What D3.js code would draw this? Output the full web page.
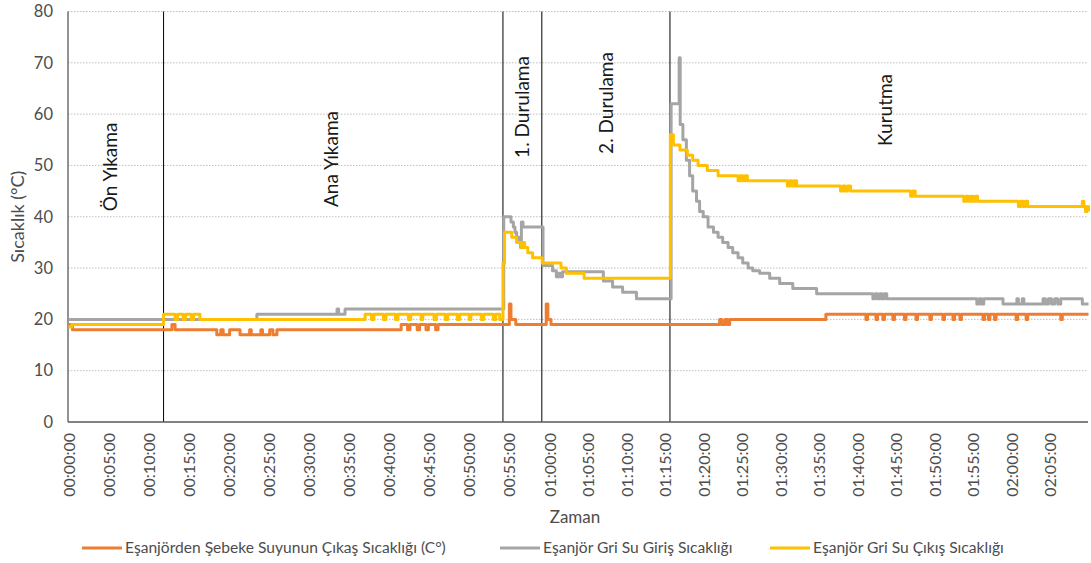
<!DOCTYPE html>
<html><head><meta charset="utf-8">
<script src="https://cdn.jsdelivr.net/npm/d3@7"></script>
<style>
body{margin:0;background:#fff;}
svg text{font-family:Lato,"Liberation Sans",sans-serif;}
</style></head><body>
<svg id="c" width="1091" height="563"></svg>
<script>
// ---------- DATA (time in minutes, temperature in °C) ----------
const seriesNames = [
  "Eşanjörden Şebeke Suyunun Çıkaş Sıcaklığı (C°)",
  "Eşanjör Gri Su Giriş Sıcaklığı",
  "Eşanjör Gri Su Çıkış Sıcaklığı"
];
const seriesColors = ["#ED7D31", "#A5A5A5", "#FFC000"];

const sebekeCikis = [
  [0,19],[0.5,18],[12.9,19],[13.3,18],
  [18.5,17],[19.0,18],[19.3,17],[20.1,18],
  [21.4,17],[22.6,18],[22.8,17],[24.0,18],[24.2,17],[25.1,18],[25.5,17],[26.0,18],
  [41.5,19],[42.3,18],[42.6,19],[43.5,18],[43.8,19],[44.6,18],[44.9,19],[45.8,18],[46.1,19],
  [55.0,23],[55.2,20],[55.8,19],
  [59.6,23],[59.8,20],[60.2,19],
  [82.1,20],[82.4,19],[82.8,20],[83.1,19],[83.4,20],
  [95.9,21],
  [101.1,20],[101.3,21],[102.4,20],[102.6,21],[103.3,20],[103.5,21],[104.6,20],[104.8,21],
  [106.1,20],[106.3,21],[107.6,20],[107.8,21],[109.4,20],[109.6,21],[111.1,20],[111.3,21],
  [112.4,20],[112.6,21],[113.3,20],[113.5,21],[116.3,20],[116.5,21],[117.0,20],[117.2,21],
  [117.8,20],[118.0,21],[120.6,20],[120.8,21],[121.9,20],[122.1,21],[126.4,20],[126.6,21],
  [130,21]
];

const griGiris = [
  [0,20],[23.5,21],[33.5,22],[33.7,21],[34.5,22],
  [54.3,40],[55.2,39],[55.5,38],[55.7,37],[55.9,36],[56.2,35],[56.4,34],[56.5,39],[56.7,38],
  [59.2,30.5],[60.4,29.5],[60.9,28.3],[61.2,29],[61.4,28.3],[61.7,29.3],
  [67.0,27.5],[68.2,26.3],[69.5,25.3],[71.3,24],
  [75.8,62],[76.85,71],[76.98,58],[77.33,55],[77.78,51],[78.2,48],[78.6,45],[79.1,43],
  [79.5,41],[79.97,40],[80.6,38],[81.3,37],[81.9,36],[82.5,35],[83.2,34],[83.8,33],
  [84.5,32],[85.1,31],[85.8,30],[86.4,29.5],[87.3,29],[88.6,28],[89.9,27],[91.6,26],[94.7,25],
  [102.0,24],[102.3,25],[102.6,24],[102.9,25],[103.2,24],[103.5,25],[103.8,24],
  [115.5,23],[115.8,24],[116.1,23],[116.4,24],
  [118.9,23],[120.7,24],[120.9,23],[121.4,24],[121.6,23],
  [124.1,24],[124.4,23],[124.8,24],[125.2,23],[125.6,24],[126.0,23],[126.4,24],
  [129.2,23],[130,23]
];

const griCikis = [
  [0,18.5],[0.4,19],
  [11.86,21],[13.3,20],[13.6,21],[14.3,20],[14.6,21],[15.3,20],[15.6,21],[16.4,20],
  [37.0,21],[37.8,20],[38.1,21],[39.3,20],[39.6,21],[40.8,20],[41.1,21],[42.4,20],[42.7,21],
  [44.0,20],[44.2,21],[45.6,20],[45.9,21],[47.0,20],[47.3,21],[48.5,20],[48.8,21],[50.0,20],
  [50.2,21],[51.5,20],[51.8,21],[53.0,20],[53.3,21],[53.8,20],
  [54.2,31],[54.4,37],[55.3,36],[55.9,35],[56.5,34],[56.7,35],[56.9,34],[57.3,33],[57.9,32],
  [59.1,31],[61.5,30],[62.2,29],[64.5,28],
  [75.7,56],[76.1,54],[76.95,53],[77.9,52],[78.6,51],[79.3,50],[80.5,49],[81.9,48],
  [84.5,47],[84.8,48],[85.1,47],[85.4,48],[85.7,47],
  [90.9,46],[91.2,47],[91.5,46],[91.8,47],[92.1,46],
  [97.8,45],[98.1,46],[98.4,45],[98.7,46],[99.1,45],
  [106.9,44],[107.2,45],[107.5,44],
  [113.8,43],[114.1,44],[114.4,43],[114.7,44],[115.0,43],[115.3,44],[115.6,43],
  [120.9,42],[121.2,43],[121.5,42],[121.8,43],[122.1,42],
  [129.2,43],[129.4,42],[129.6,41],[129.8,42],[130,41]
];

const phaseBoundaries = [11.86, 54.2, 59.05, 75.65];
const phaseNames = ["Ön Yıkama", "Ana Yıkama", "1. Durulama", "2. Durulama", "Kurutma"];
const phaseLabelTimes = [5.2, 32.8, 56.6, 67.4, 103.6];

const xTickLabels = ["00:00:00","00:05:00","00:10:00","00:15:00","00:20:00","00:25:00",
  "00:30:00","00:35:00","00:40:00","00:45:00","00:50:00","00:55:00","01:00:00","01:05:00",
  "01:10:00","01:15:00","01:20:00","01:25:00","01:30:00","01:35:00","01:40:00","01:45:00",
  "01:50:00","01:55:00","02:00:00","02:05:00"];
const yTicks = [0,10,20,30,40,50,60,70,80];

// ---------- LAYOUT ----------
const L = 68, R = 1088, T = 11.5, B = 422;
const phaseLabelY = [167, 159, 107, 103, 110];
const svg = d3.select("#c");

const toMin = s => { const p = s.split(":").map(Number); return p[0]*60 + p[1] + p[2]/60; };

const x = d3.scaleLinear().domain([0, 60, 130]).range([L + 0.5, L + 0.472*(R-L), R + 0.5]);
const y = d3.scaleLinear().domain([0, 80]).range([B, T]);

// gridlines
svg.append("g").selectAll("line").data(yTicks.filter(d => d > 0)).join("line")
  .attr("x1", L).attr("x2", R).attr("y1", d => y(d)).attr("y2", d => y(d))
  .attr("stroke", "#bfbfbf").attr("stroke-width", 1).attr("stroke-dasharray", "1.5,1.5");

// phase boundaries
svg.append("g").selectAll("line").data(phaseBoundaries).join("line")
  .attr("x1", d => x(d)).attr("x2", d => x(d)).attr("y1", y(80)).attr("y2", B)
  .attr("stroke", "#000").attr("stroke-width", 1);

// axis lines
svg.append("line").attr("x1", L).attr("x2", L).attr("y1", T).attr("y2", B)
  .attr("stroke", "#595959").attr("stroke-width", 1.3);
svg.append("line").attr("x1", L).attr("x2", R).attr("y1", B).attr("y2", B)
  .attr("stroke", "#595959").attr("stroke-width", 1.3);

// y axis
const gy = svg.append("g").attr("transform", `translate(${L},0)`)
  .call(d3.axisLeft(y).tickValues(yTicks).tickSize(0).tickPadding(15));
gy.select(".domain").remove();
gy.selectAll("text").attr("font-size", 16.5).attr("fill", "#4d4d4d")
  .style("font-family", "Lato");

// x axis
const xTickMin = xTickLabels.map(toMin);
const gx = svg.append("g").attr("transform", `translate(0,${B})`)
  .call(d3.axisBottom(x).tickValues(xTickMin)
    .tickFormat(d => xTickLabels[xTickMin.indexOf(d)]).tickSize(0));
gx.select(".domain").remove();
gx.selectAll("text").attr("transform", "rotate(-90)").attr("text-anchor", "end")
  .attr("x", -11).attr("y", 0).attr("dy", "0.35em")
  .attr("font-size", 16).attr("fill", "#4d4d4d").style("font-family", "Lato");

// axis titles
svg.append("text").attr("transform", `translate(18,${(T+B)/2}) rotate(-90)`)
  .attr("text-anchor", "middle").attr("dy", "0.35em").attr("font-size", 18)
  .attr("fill", "#4d4d4d").text("Sıcaklık (°C)");
svg.append("text").attr("x", (L+R)/2 - 3).attr("y", 517).attr("dy", "0.35em")
  .attr("text-anchor", "middle").attr("font-size", 17).attr("fill", "#4d4d4d").text("Zaman");

// phase labels
svg.append("g").selectAll("text").data(phaseNames).join("text")
  .attr("transform", (d, i) => `translate(${x(phaseLabelTimes[i])},${phaseLabelY[i]}) rotate(-90)`)
  .attr("text-anchor", "middle").attr("dy", "0.35em").attr("font-size", 19)
  .attr("fill", "#1a1a1a").text(d => d);

// series
const line = d3.line().x(d => x(d[0])).y(d => y(d[1])).curve(d3.curveStepAfter);
[sebekeCikis, griGiris, griCikis].forEach((s, i) => {
  svg.append("path").datum(s).attr("d", line).attr("fill", "none")
    .attr("stroke", seriesColors[i]).attr("stroke-width", 3)
    .attr("stroke-linejoin", "round").attr("stroke-linecap", "butt");
});

// legend
const legendX = [82, 500, 770];
const lg = svg.append("g").attr("transform", "translate(0,548)");
seriesNames.forEach((n, i) => {
  lg.append("line").attr("x1", legendX[i]).attr("x2", legendX[i] + 40).attr("y1", 0).attr("y2", 0)
    .attr("stroke", seriesColors[i]).attr("stroke-width", 3);
  lg.append("text").attr("x", legendX[i] + 43).attr("y", 0).attr("dy", "0.35em")
    .attr("font-size", 15.6).attr("fill", "#4d4d4d").text(n);
});
</script>
</body></html>
